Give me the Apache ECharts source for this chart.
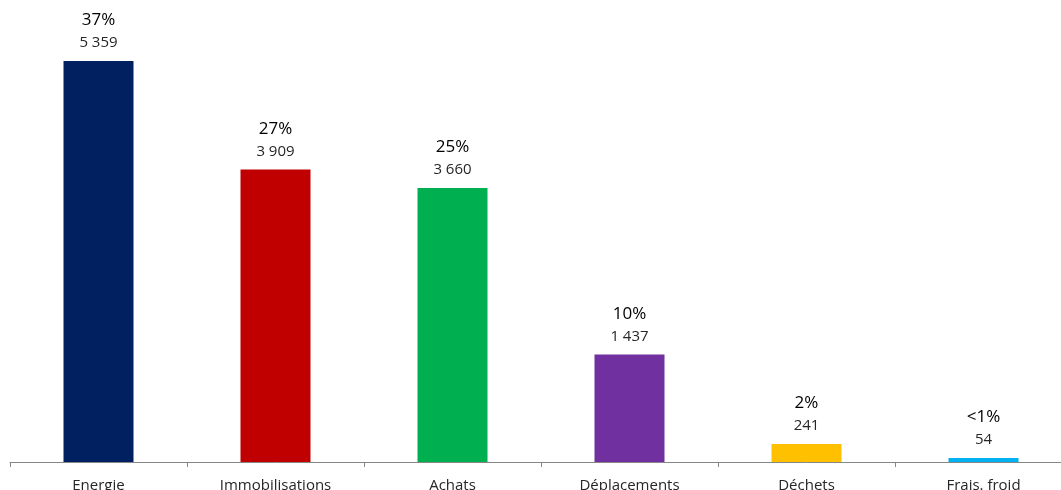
<!DOCTYPE html>
<html><head><meta charset="utf-8">
<script src="https://cdn.jsdelivr.net/npm/echarts@6/dist/echarts.min.js"></script>
<style>html,body{margin:0;padding:0;background:#fff;overflow:hidden}#c{width:1072px;height:490px}</style>
</head><body><div id="c"></div>
<script>
const categories = ['Energie', 'Immobilisations', 'Achats', 'Déplacements', 'Déchets', 'Frais. froid'];
const values = [5359, 3909, 3660, 1437, 241, 54];
const valueLabels = ['5 359', '3 909', '3 660', '1 437', '241', '54'];
const percentLabels = ['37%', '27%', '25%', '10%', '2%', '<1%'];
const colors = ['#002060', '#C00000', '#00B050', '#7030A0', '#FFC000', '#00B0F0'];

const chart = echarts.init(document.getElementById('c'), null, {renderer: 'canvas'});
chart.setOption({
  animation: false,
  grid: {left: 10, right: 0, top: 13, bottom: 28, containLabel: false, outerBoundsMode: 'none'},
  xAxis: {
    type: 'category',
    data: categories,
    axisLine: {lineStyle: {color: '#868686', width: 1}},
    axisTick: {show: true, length: 5, lineStyle: {color: '#868686'}},
    axisLabel: {color: '#262626', fontSize: 15, fontFamily: 'Open Sans', margin: 16}
  },
  yAxis: {
    type: 'value', min: 0, max: 6000,
    show: false, splitLine: {show: false}
  },
  series: [{
    type: 'bar',
    barWidth: 70,
    data: values.map((v, i) => ({value: v, itemStyle: {color: colors[i]}})),
    label: {
      show: true,
      position: 'top',
      distance: 8,
      formatter: p => '{p|' + percentLabels[p.dataIndex] + '}\n{v|' + valueLabels[p.dataIndex] + '}',
      rich: {
        p: {fontSize: 17, color: '#000', fontFamily: 'Open Sans', lineHeight: 25},
        v: {fontSize: 15, color: '#262626', fontFamily: 'Open Sans', lineHeight: 20}
      }
    }
  }]
});
</script></body></html>
